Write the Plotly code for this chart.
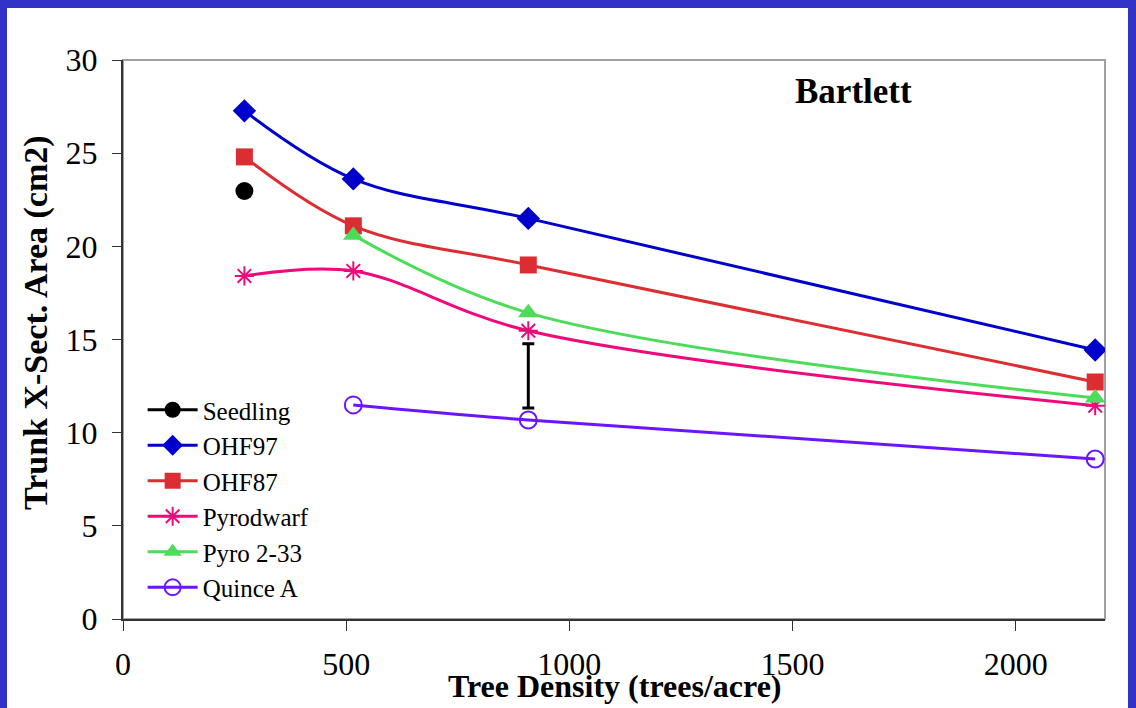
import plotly.graph_objects as go

density = [272, 516, 908, 2178]
seedling_x = [272]
seedling = [22.97]
ohf97 = [27.27, 23.62, 21.5, 14.44]
ohf87 = [24.8, 21.1, 19.0, 12.72]
pyrodwarf = [18.41, 18.68, 15.47, 11.45]
pyro233_x = [516, 908, 2178]
pyro233 = [20.6, 16.43, 11.86]
quince_x = [516, 908, 2178]
quince = [11.49, 10.68, 8.59]
lsd_x = [908]
lsd_center = [13.05]
lsd_half = [1.72]

FONT = "'Liberation Serif', 'Times New Roman', Times, serif"
L, R, T, B = 123, 1105, 60, 619
W, H = 1136, 708

fig = go.Figure()

fig.add_trace(go.Scatter(x=seedling_x, y=seedling, name="Seedling", mode="lines+markers",
                         line=dict(color="black", width=3),
                         marker=dict(symbol="circle", size=18, color="black")))
fig.add_trace(go.Scatter(x=density, y=ohf97, name="OHF97", mode="lines+markers",
                         line=dict(color="#0000CC", width=3, shape="spline", smoothing=1),
                         marker=dict(symbol="diamond", size=18, color="#0000CC")))
fig.add_trace(go.Scatter(x=density, y=ohf87, name="OHF87", mode="lines+markers",
                         line=dict(color="#DC2D32", width=3, shape="spline", smoothing=1),
                         marker=dict(symbol="square", size=17, color="#DC2D32")))
fig.add_trace(go.Scatter(x=density, y=pyrodwarf, name="Pyrodwarf", mode="lines+markers",
                         line=dict(color="#EE0A7A", width=3, shape="spline", smoothing=1),
                         marker=dict(symbol="asterisk-open", size=16, color="#EE0A7A",
                                     line=dict(color="#EE0A7A", width=2))))
fig.add_trace(go.Scatter(x=pyro233_x, y=pyro233, name="Pyro 2-33", mode="lines+markers",
                         line=dict(color="#4CDC5A", width=3, shape="spline", smoothing=1),
                         marker=dict(symbol="triangle-up", size=18, color="#4CDC5A")))
fig.add_trace(go.Scatter(x=quince_x, y=quince, name="Quince A", mode="lines+markers",
                         line=dict(color="#6A14FF", width=3, shape="spline", smoothing=1),
                         marker=dict(symbol="circle-open", size=17, color="#6A14FF",
                                     line=dict(color="#6A14FF", width=2))))
fig.add_trace(go.Scatter(x=lsd_x, y=lsd_center, mode="markers", showlegend=False,
                         marker=dict(size=1, opacity=0),
                         error_y=dict(type="data", array=lsd_half, visible=True,
                                      color="black", thickness=3, width=6)))

def px_x(p):
    return (p - L) / (R - L)

def px_y(p):
    return (B - p) / (B - T)

fig.add_shape(type="rect", xref="paper", yref="paper",
              x0=px_x(7), x1=px_x(1128), y0=px_y(W + 10), y1=px_y(8),
              fillcolor="white", line=dict(width=0), layer="below")
fig.add_shape(type="rect", xref="paper", yref="paper", x0=0, x1=1, y0=0, y1=1,
              line=dict(color="#A0A0A0", width=2), layer="below")

fig.add_annotation(text="<b>Bartlett</b>", xref="paper", yref="paper",
                   x=px_x(853), y=px_y(91), showarrow=False,
                   xanchor="center", yanchor="middle",
                   font=dict(family=FONT, size=35, color="black"))
fig.add_annotation(text="<b>Tree Density (trees/acre)</b>", xref="paper", yref="paper",
                   x=px_x(614), y=px_y(686), showarrow=False,
                   xanchor="center", yanchor="middle",
                   font=dict(family=FONT, size=32, color="black"))
fig.add_annotation(text="<b>Trunk X-Sect. Area (cm2)</b>", xref="paper", yref="paper",
                   x=px_x(36), y=px_y(323), showarrow=False, textangle=-90,
                   xanchor="center", yanchor="middle",
                   font=dict(family=FONT, size=34, color="black"))

fig.update_layout(
    width=W, height=H,
    margin=dict(l=L, r=W - R, t=T, b=H - B, pad=0),
    paper_bgcolor="#3232C8",
    plot_bgcolor="white",
    font=dict(family=FONT, color="black"),
    showlegend=True,
    legend=dict(x=0.02, y=px_y(387), xanchor="left", yanchor="top",
                bgcolor="rgba(0,0,0,0)", font=dict(family=FONT, size=25, color="black"),
                itemwidth=50, tracegroupgap=0),
    xaxis=dict(range=[0, 2200], tickvals=[0, 500, 1000, 1500, 2000],
               showgrid=False, zeroline=False, showline=True, linecolor="#333333",
               linewidth=2, ticks="outside", ticklen=10, tickcolor="#333333",
               tickfont=dict(family=FONT, size=32, color="black"), ticklabelstandoff=6),
    yaxis=dict(range=[0, 30], tickvals=[0, 5, 10, 15, 20, 25, 30],
               showgrid=False, zeroline=False, showline=True, linecolor="#333333",
               linewidth=2, ticks="outside", ticklen=9, tickcolor="#333333",
               tickfont=dict(family=FONT, size=32, color="black"), ticklabelstandoff=8),
)

fig.write_html("out.html", config={"displayModeBar": False},
               post_script="document.body.style.margin='0';document.body.style.padding='0';document.body.style.overflow='hidden';")
